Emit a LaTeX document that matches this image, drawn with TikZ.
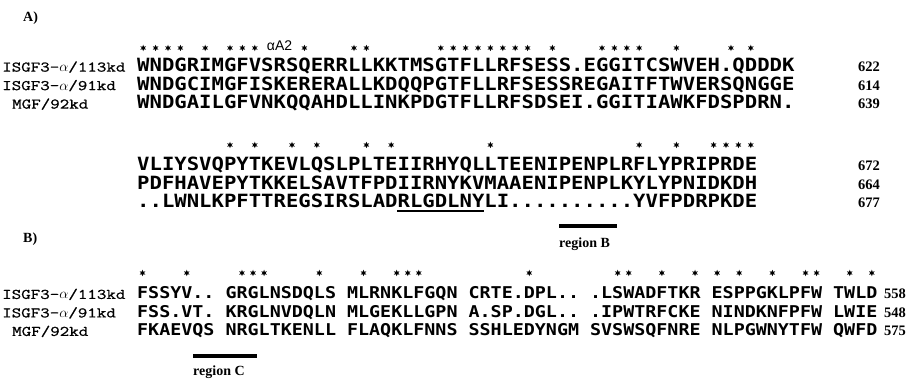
\documentclass[tikz,border=0pt]{standalone}
\usepackage{fontspec}
\usetikzlibrary{shapes.geometric}
\newfontfamily\seqfont[FakeStretch=1.13]{DejaVu Sans Mono}
\newfontfamily\labfont[FakeStretch=1.26,FakeBold=1]{Latin Modern Mono}
\newfontfamily\serffont{Liberation Serif}
\newfontfamily\sansfnt{Liberation Sans}
\newcommand\labalpha{\raisebox{0pt}{$\alpha$}}
\begin{document}
\begin{tikzpicture}[x=1pt,y=-1pt,
  seqA/.style={anchor=base west, inner sep=0pt, font=\seqfont\bfseries\fontsize{18.23}{18}\selectfont},
  seqB/.style={anchor=base west, inner sep=0pt, font=\seqfont\bfseries\fontsize{16.24}{16}\selectfont},
  lab/.style={anchor=base west, inner sep=0pt, font=\labfont\fontsize{14.66}{14}\selectfont},
  num/.style={anchor=base west, inner sep=0pt, font=\serffont\bfseries\fontsize{14.5}{14}\selectfont},
  head/.style={anchor=base west, inner sep=0pt, font=\serffont\bfseries\fontsize{14}{14}\selectfont},
  helix/.style={anchor=base, inner sep=0pt, font=\sansfnt\fontsize{14}{14}\selectfont},
  astm/.style={star, star points=6, star point ratio=2.2, fill=black, inner sep=0pt, minimum size=6.5pt},
  bar/.style={line width=3.5pt},
  uline/.style={line width=1.4pt}
]
\useasboundingbox (0,0) rectangle (910,379);
% ---------- A ----------
\node[head] (hA) at (23,21.6) {A)};
\foreach \i [count=\k] in {0,1,2,3,5,7,8,9,13,17,18,24,25,26,27,28,29,30,31,33,37,38,39,40,43,47.4,49}
  \node[astm] (sa\k) at ({137+(\i+0.5)*12.4},48) {};
\node[helix] (helix) at ({137+11.5*12.4},51) {αA2};
\node[lab] (la1) at (2,71.6) {ISGF3-\labalpha/113kd};
\node[lab] (la2) at (2,90.1) {ISGF3-\labalpha/91kd};
\node[lab] (la3) at (12,108.6) {MGF/92kd};
\node[seqA] (a1) at (137,71.6) {WNDGRIMGFVSRSQERRLLKKTMSGTFLLRFSESS.EGGITCSWVEH.QDDDK};
\node[seqA] (a2) at (137,90.1) {WNDGCIMGFISKERERALLKDQQPGTFLLRFSESSREGAITFTWVERSQNGGE};
\node[seqA] (a3) at (137,108.6) {WNDGAILGFVNKQQAHDLLINKPDGTFLLRFSDSEI.GGITIAWKFDSPDRN.};
\node[num] (na1) at (858,71.6) {622};
\node[num] (na2) at (858,90.1) {614};
\node[num] (na3) at (858,108.6) {639};
\foreach \i [count=\k] in {7,9,12,14,18,20,28,40,43,46,47,48,49}
  \node[astm] (sb\k) at ({137+(\i+0.5)*12.4},145) {};
\node[seqA] (b1) at (137,170.6) {VLIYSVQPYTKEVLQSLPLTEIIRHYQLLTEENIPENPLRFLYPRIPRDE};
\node[seqA] (b2) at (137,189.1) {PDFHAVEPYTKKELSAVTFPDIIRNYKVMAAENIPENPLKYLYPNIDKDH};
\node[seqA] (b3) at (137,207.6) {..LWNLKPFTTREGSIRSLADRLGDLNYLI..........YVFPDRPKDE};
\node[num] (nb1) at (858,170.6) {672};
\node[num] (nb2) at (858,189.1) {664};
\node[num] (nb3) at (858,207.6) {677};
\coordinate (ul1) at ({137+21*12.4},211);
\coordinate (ul2) at ({137+28*12.4},211);
\draw[uline] (ul1) -- (ul2);
\coordinate (rb1) at (559,226);
\coordinate (rb2) at (617,226);
\draw[bar] (rb1) -- (rb2);
\node[head] (regB) at (559,247.5) {region B};
% ---------- B ----------
\node[head] (hB) at (23,242.6) {B)};
\foreach \i [count=\k] in {0,4,9,10,11,16,20,23,24,25,35,43,44,47,50,52,54,57,60,61,64,66}
  \node[astm] (sc\k) at ({137+(\i+0.5)*11.05},273) {};
\node[lab] (lc1) at (2,298.9) {ISGF3-\labalpha/113kd};
\node[lab] (lc2) at (2,317.4) {ISGF3-\labalpha/91kd};
\node[lab] (lc3) at (12,335.9) {MGF/92kd};
\node[seqB] (c1) at (137,298.9) {FSSYV..~GRGLNSDQLS~MLRNKLFGQN~CRTE.DPL..~.LSWADFTKR~ESPPGKLPFW~TWLD};
\node[seqB] (c2) at (137,317.4) {FSS.VT.~KRGLNVDQLN~MLGEKLLGPN~A.SP.DGL..~.IPWTRFCKE~NINDKNFPFW~LWIE};
\node[seqB] (c3) at (137,335.9) {FKAEVQS~NRGLTKENLL~FLAQKLFNNS~SSHLEDYNGM~SVSWSQFNRE~NLPGWNYTFW~QWFD};
\node[num] (nc1) at (884,298.9) {558};
\node[num] (nc2) at (884,317.4) {548};
\node[num] (nc3) at (884,335.9) {575};
\coordinate (rc1) at (193,356);
\coordinate (rc2) at (257,356);
\draw[bar] (rc1) -- (rc2);
\node[head] (regC) at (193,375.5) {region C};
\end{tikzpicture}
\end{document}
